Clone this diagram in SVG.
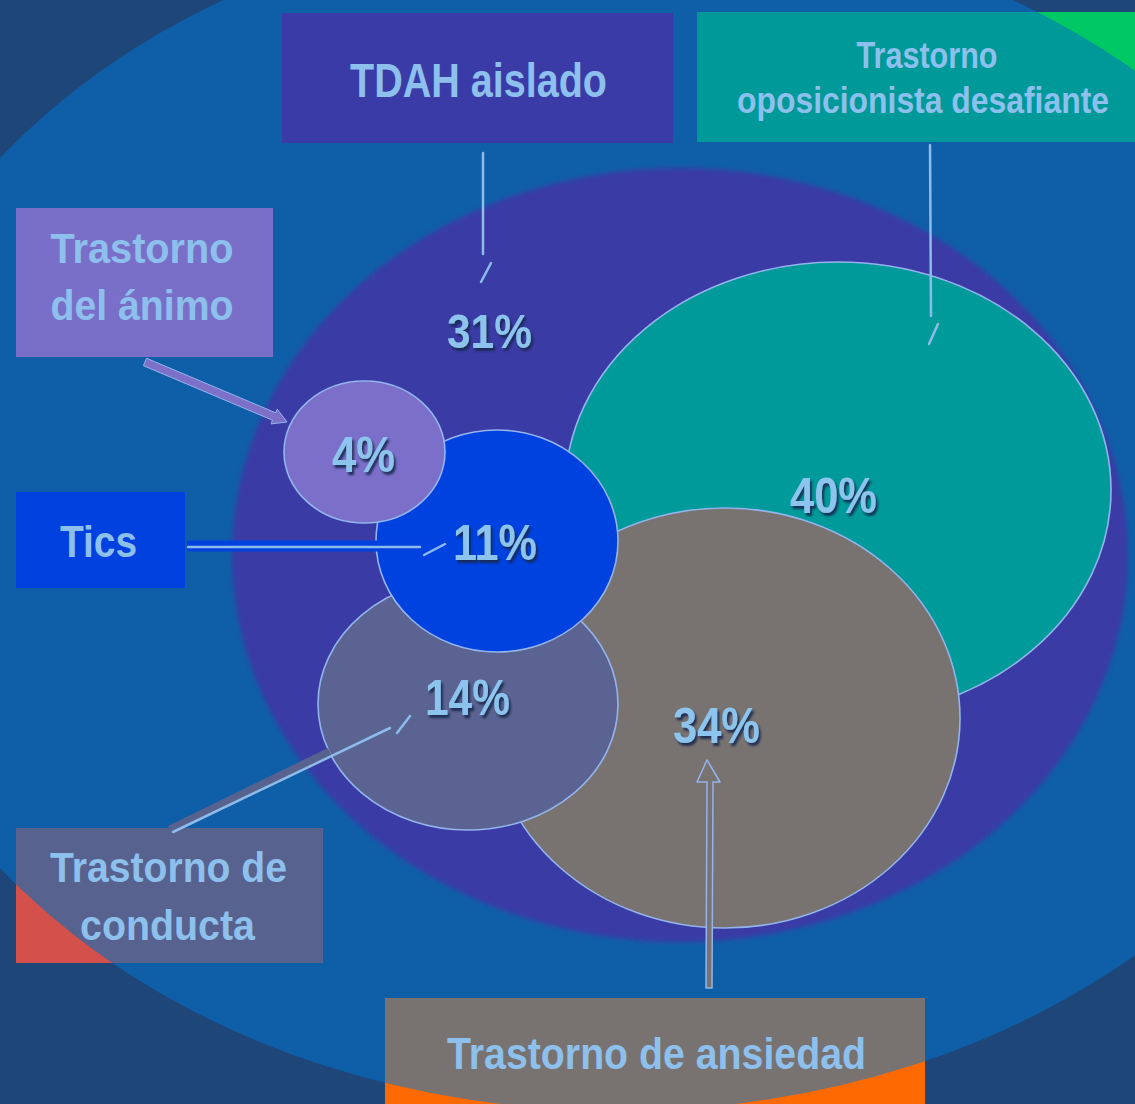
<svg xmlns="http://www.w3.org/2000/svg" width="1135" height="1104" viewBox="0 0 1135 1104">
<defs>
<style>
.lbl{font-family:"Liberation Sans",Arial,sans-serif;font-weight:bold;fill:#8DC0EC;text-anchor:middle}
.pct{font-family:"Liberation Sans",Arial,sans-serif;font-weight:bold;fill:#8DC4EE;text-anchor:middle;filter:url(#shadow)}
.ring{stroke:#93B4EC;stroke-width:1.6}
.conn{stroke:#8DBBEA;stroke-width:2.5;fill:none;stroke-linecap:round}
</style>
<filter id="shadow" x="-20%" y="-20%" width="150%" height="150%">
<feDropShadow dx="2" dy="3" stdDeviation="1" flood-color="#152550" flood-opacity="0.9"/>
</filter>
<filter id="soft" x="-5%" y="-5%" width="110%" height="110%">
<feGaussianBlur stdDeviation="2.5"/>
</filter>
<path id="outside" fill-rule="evenodd" d="M0 0H1135V1104H0Z M-150 513a768 598 0 1 0 1536 0a768 598 0 1 0 -1536 0Z"/>
<clipPath id="cOdd"><rect x="697" y="12" width="438" height="130"/></clipPath>
<clipPath id="cCond"><rect x="16" y="828" width="307" height="135"/></clipPath>
<clipPath id="cAnx"><rect x="385" y="998" width="540" height="106"/></clipPath>
</defs>

<g id="background">
<rect x="0" y="0" width="1135" height="1104" fill="#1E4679"/>
<ellipse cx="618" cy="513" rx="768" ry="598" fill="#0F5FA8"/>
</g>

<g id="node-tdah">
<ellipse cx="680" cy="555" rx="448" ry="387" fill="#3A3AA6" filter="url(#soft)"/>
<rect x="282" y="13" width="391" height="130" fill="#3A3BA6"/>
<text class="lbl" x="478.5" y="97" font-size="48" textLength="257" lengthAdjust="spacingAndGlyphs">TDAH aislado</text>
<text class="pct" x="489.5" y="348" font-size="48" textLength="85" lengthAdjust="spacingAndGlyphs">31%</text>
</g>

<g id="node-odd">
<ellipse class="ring" cx="838" cy="490" rx="273" ry="228" fill="#009A9A"/>
<rect x="697" y="12" width="438" height="130" fill="#009999"/>
<use href="#outside" fill="#00C864" clip-path="url(#cOdd)"/>
<text class="lbl" x="927" y="68" font-size="37" textLength="141" lengthAdjust="spacingAndGlyphs">Trastorno</text>
<text class="lbl" x="923" y="113" font-size="36" textLength="372" lengthAdjust="spacingAndGlyphs">oposicionista desafiante</text>
<text class="pct" x="833.5" y="513" font-size="50" textLength="87" lengthAdjust="spacingAndGlyphs">40%</text>
</g>

<g id="node-anxiety">
<ellipse class="ring" cx="725" cy="718" rx="235" ry="210" fill="#787270"/>
<rect x="385" y="998" width="540" height="106" fill="#787370"/>
<use href="#outside" fill="#FF6A00" clip-path="url(#cAnx)"/>
<text class="lbl" x="656.5" y="1069" font-size="44" textLength="419" lengthAdjust="spacingAndGlyphs">Trastorno de ansiedad</text>
<text class="pct" x="716.5" y="743" font-size="50" textLength="87" lengthAdjust="spacingAndGlyphs">34%</text>
</g>

<g id="node-conduct">
<ellipse class="ring" cx="468" cy="704" rx="150" ry="126" fill="#5A6391"/>
<rect x="16" y="828" width="307" height="135" fill="#58628F"/>
<use href="#outside" fill="#D4504A" clip-path="url(#cCond)"/>
<text class="lbl" x="168.5" y="882" font-size="42" textLength="237" lengthAdjust="spacingAndGlyphs">Trastorno de</text>
<text class="lbl" x="167.5" y="940" font-size="42" textLength="175" lengthAdjust="spacingAndGlyphs">conducta</text>
<text class="pct" x="467.5" y="715" font-size="50" textLength="85" lengthAdjust="spacingAndGlyphs">14%</text>
</g>

<g id="node-tics">
<ellipse class="ring" cx="497" cy="541" rx="121" ry="111" fill="#0042E0"/>
<rect x="16" y="492" width="169" height="96" fill="#0041E0"/>
<text class="lbl" x="98.5" y="557" font-size="44" textLength="77" lengthAdjust="spacingAndGlyphs">Tics</text>
<text class="pct" x="495" y="560" font-size="50" textLength="84" lengthAdjust="spacingAndGlyphs">11%</text>
</g>

<g id="node-mood">
<ellipse class="ring" cx="364.5" cy="452" rx="80.5" ry="71" fill="#7B6FC9"/>
<rect x="16" y="208" width="257" height="149" fill="#7A6FC8"/>
<text class="lbl" x="142" y="263" font-size="42" textLength="183" lengthAdjust="spacingAndGlyphs">Trastorno</text>
<text class="lbl" x="142" y="320" font-size="42" textLength="183" lengthAdjust="spacingAndGlyphs">del ánimo</text>
<text class="pct" x="363.5" y="472" font-size="50" textLength="63" lengthAdjust="spacingAndGlyphs">4%</text>
</g>

<g id="connectors">
<line class="conn" x1="483" y1="153" x2="483" y2="254"/>
<line class="conn" x1="491" y1="263" x2="481" y2="282"/>
<line class="conn" x1="930" y1="145" x2="931" y2="316"/>
<line class="conn" x1="938" y1="324" x2="929" y2="344"/>
<line x1="187" y1="546" x2="420" y2="546" stroke="#0041E0" stroke-width="11"/>
<line class="conn" x1="188" y1="547" x2="420" y2="547"/>
<line class="conn" x1="424" y1="555" x2="445" y2="544"/>
<line x1="170" y1="830" x2="330" y2="752" stroke="#58628F" stroke-width="9"/>
<line class="conn" x1="173" y1="832" x2="390" y2="728"/>
<line class="conn" x1="397" y1="733" x2="410" y2="716"/>
<polygon points="146.6,358.3 275.7,412.8 277.2,409.1 287,422 271,423.9 272.5,420.2 143.4,365.7" fill="#7C70C8" stroke="#93B4EC" stroke-width="1"/>
<polygon points="707,760 720,782 713,782 712,988 706,988 707,782 697,782" fill="#787370" stroke="#93B4EC" stroke-width="1.5" stroke-linejoin="round"/>
</g>
</svg>
